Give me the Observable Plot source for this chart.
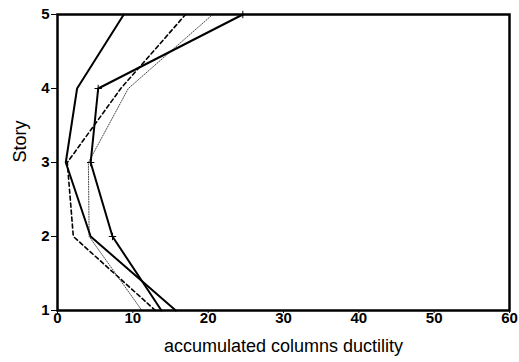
<!DOCTYPE html>
<html><head><meta charset="utf-8">
<script src="https://cdn.jsdelivr.net/npm/d3@7"></script>
<script src="https://cdn.jsdelivr.net/npm/@observablehq/plot@0.6"></script>
<style>body{margin:0;background:#fff}</style>
</head><body><div id="chart"></div>
<script>
const stories = [1, 2, 3, 4, 5];
const solidA = [15.7, 4.4, 1.1, 2.6, 8.8];      // solid, no marker
const solidB = [13.8, 7.3, 4.4, 5.4, 24.6];     // solid with markers
const dashed = [13.0, 2.1, 1.3, 8.4, 17.0];
const dotted = [11.2, 4.2, 4.1, 9.4, 20.6];
const xTicks = [0, 10, 20, 30, 40, 50, 60];
const yTicks = [1, 2, 3, 4, 5];

const mk = arr => stories.map((s, i) => ({x: arr[i], y: s}));
const markerPts = mk(solidB).filter(d => d.y > 1);

const font = "'Liberation Sans', Arial, Helvetica, sans-serif";
const chart = Plot.plot({
  width: 519, height: 362,
  marginLeft: 57, marginRight: 10, marginTop: 14, marginBottom: 52,
  style: {fontFamily: font, fontSize: "15px", color: "#000", background: "#fff"},
  x: {domain: [0, 60]},
  y: {domain: [1, 5]},
  marks: [
    Plot.axisX(xTicks, {tickSize: 3, tickFormat: () => "", label: null}),
    Plot.axisY(yTicks, {tickSize: 6, tickFormat: () => "", label: null}),
    Plot.text(xTicks, {x: d => d, frameAnchor: "bottom", dy: 12, fontSize: 15, fontWeight: "bold", fill: "#000"}),
    Plot.text(yTicks, {y: d => d, frameAnchor: "left", dx: -8, textAnchor: "end", fontSize: 15, fontWeight: "bold", fill: "#000"}),
    Plot.text(["accumulated columns ductility"], {frameAnchor: "bottom", dy: 41, fontSize: 18, fill: "#000"}),
    Plot.text(["Story"], {frameAnchor: "left", dx: -37, rotate: -90, fontSize: 18, fill: "#000"}),
    Plot.line(mk(dotted), {x: "x", y: "y", stroke: "#444", strokeWidth: 1, strokeDasharray: "1,1.5"}),
    Plot.line(mk(dashed), {x: "x", y: "y", stroke: "#000", strokeWidth: 1.6, strokeDasharray: "4,3"}),
    Plot.line(mk(solidA), {x: "x", y: "y", stroke: "#000", strokeWidth: 2}),
    Plot.line(mk(solidB), {x: "x", y: "y", stroke: "#000", strokeWidth: 2}),
    Plot.dot(markerPts, {x: "x", y: "y", symbol: "plus", r: 2.5, stroke: "#000", strokeWidth: 1}),
    Plot.frame({stroke: "#000", strokeWidth: 2.5})
  ]
});
document.getElementById("chart").appendChild(chart);
</script>
</body></html>
